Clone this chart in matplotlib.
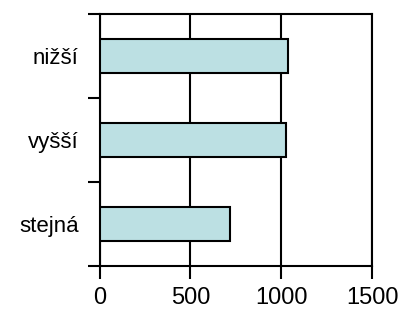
import matplotlib.pyplot as plt
import numpy as np

# data (bottom to top)
categories = ["stejná", "vyšší", "nižší"]
values = [717, 1027, 1035]
xticks = [0, 500, 1000, 1500]

plt.rcParams['font.family'] = ['Liberation Sans', 'DejaVu Sans']

fig = plt.figure(figsize=(3.99, 3.11), dpi=100)
ax = fig.add_axes([99.5 / 399, 45 / 311, 272.5 / 399, 252 / 311])

pos = np.arange(len(categories))
ax.barh(pos, values, height=0.4, color="#BCE0E3", edgecolor="black",
        linewidth=1.5, zorder=3)

ax.set_xlim(0, 1500)
ax.set_ylim(-0.5, len(categories) - 0.5)
ax.set_xticks(xticks)
ax.set_xticklabels([str(t) for t in xticks], fontsize=17)
ax.set_yticks(pos)
ax.set_yticklabels(categories, fontsize=16)
ax.set_yticks(np.arange(-0.5, len(categories)), minor=True)

ax.tick_params(axis="y", which="major", length=0, pad=15)
ax.tick_params(axis="y", which="minor", length=9, width=1.5, direction="out")
ax.tick_params(axis="x", length=9, width=1.5, direction="out", pad=6)

ax.grid(axis="x", color="black", linewidth=1.5, zorder=0)
for side in ["left", "bottom", "top", "right"]:
    ax.spines[side].set_linewidth(1.5)
ax.set_axisbelow(True)

fig.savefig("out.png", dpi=100)
